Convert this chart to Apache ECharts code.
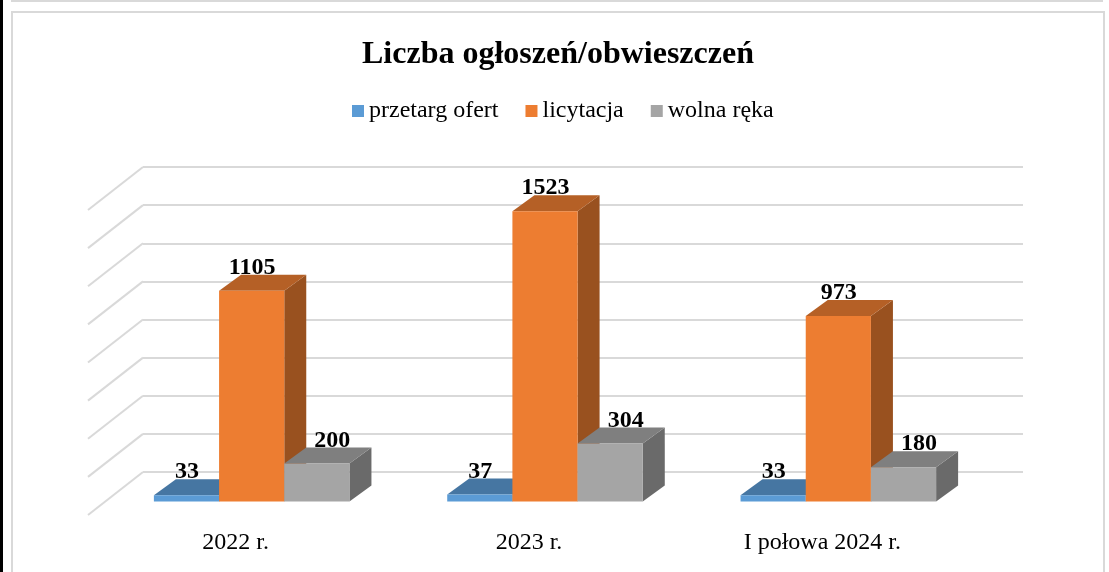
<!DOCTYPE html>
<html lang="pl">
<head>
<meta charset="utf-8">
<title>Liczba ogłoszeń/obwieszczeń</title>
<script src="https://cdn.jsdelivr.net/npm/echarts@6/dist/echarts.min.js"></script>
<style>
  html, body { margin: 0; padding: 0; background: #fff; }
  #chart { width: 1109px; height: 572px; }
</style>
</head>
<body>
<div id="chart"></div>
<script>
// dane
const categories = ['2022 r.', '2023 r.', 'I połowa 2024 r.'];
const przetargOfert = [33, 37, 33];
const licytacja = [1105, 1523, 973];
const wolnaReka = [200, 304, 180];
const yTicks = [0, 200, 400, 600, 800, 1000, 1200, 1400, 1600];

const FONT = '"Liberation Serif", "Times New Roman", serif';

// rzut 3D: przesunięcie przedniej krawędzi podłogi względem tylnej ściany
const WALL_DX = -55, WALL_DY = 43;
// przód słupka względem tylnej ściany
const FRONT_DX = -38, FRONT_DY = 29.5;
// głębokość słupka
const BAR_DX = 22, BAR_DY = -16;

const chart = echarts.init(document.getElementById('chart'));

function poly(points, color) {
  return { type: 'polygon', shape: { points: points }, style: { fill: color } };
}

// słupek 3D: barIndex 0..2 w grupie, kolory [przód, góra, bok]
function barRenderer(barIndex, colors, labelDx) {
  return function (params, api) {
    const v = api.value(1);
    const base = api.coord([api.value(0), 0]);
    const top = api.coord([api.value(0), v]);
    const w = api.size([1, 0])[0] / 4.5;
    const x0 = base[0] + FRONT_DX + (barIndex - 1.5) * w;
    const x1 = x0 + w;
    const yb = base[1] + FRONT_DY;
    const yt = top[1] + FRONT_DY;
    return {
      type: 'group',
      children: [
        poly([[x1, yb], [x1 + BAR_DX, yb + BAR_DY], [x1 + BAR_DX, yt + BAR_DY], [x1, yt]], colors[2]),
        poly([[x0, yt], [x1, yt], [x1 + BAR_DX, yt + BAR_DY], [x0 + BAR_DX, yt + BAR_DY]], colors[1]),
        poly([[x0, yb], [x1, yb], [x1, yt], [x0, yt]], colors[0]),
        {
          type: 'text',
          style: {
            x: (x0 + x1) / 2 + labelDx + 0.5,
            y: yt + BAR_DY - 7,
            text: String(v),
            align: 'center',
            verticalAlign: 'middle',
            fill: '#000',
            font: 'bold 24px ' + FONT
          }
        }
      ]
    };
  };
}

function barSeries(name, values, barIndex, colors, labelDx) {
  return {
    name: name,
    type: 'custom',
    xAxisIndex: 0,
    yAxisIndex: 0,
    itemStyle: { color: colors[0] },
    encode: { x: 0, y: 1 },
    data: values.map(function (v, i) { return [i, v]; }),
    renderItem: barRenderer(barIndex, colors, labelDx),
    silent: true
  };
}

const option = {
  backgroundColor: '#fff',
  animation: false,
  title: {
    text: 'Liczba ogłoszeń/obwieszczeń',
    left: 362,
    top: 39,
    padding: 0,
    textStyle: { fontFamily: FONT, fontSize: 32, fontWeight: 'bold', color: '#000' }
  },
  legend: {
    left: 352,
    top: 99,
    padding: 0,
    icon: 'rect',
    itemWidth: 12,
    itemHeight: 12,
    itemGap: 27,
    data: ['przetarg ofert', 'licytacja', 'wolna ręka'],
    textStyle: { fontFamily: FONT, fontSize: 24, color: '#000' }
  },
  grid: [
    // tylna ściana
    { left: 143, top: 167, width: 880, height: 305 },
    // przednia krawędź podłogi - tylko podpisy kategorii
    { left: 89, top: 515, width: 880, height: 1 }
  ],
  xAxis: [
    {
      type: 'category',
      gridIndex: 0,
      data: categories,
      axisLine: { show: false },
      axisTick: { show: false },
      axisLabel: { show: false }
    },
    {
      type: 'category',
      gridIndex: 1,
      data: categories,
      axisLine: { show: false },
      axisTick: { show: false },
      axisLabel: { margin: 15, color: '#000', fontFamily: FONT, fontSize: 24, interval: 0 }
    }
  ],
  yAxis: [
    {
      type: 'value',
      gridIndex: 0,
      min: 0,
      max: 1600,
      interval: 200,
      axisLine: { show: false },
      axisTick: { show: false },
      axisLabel: { show: false },
      splitLine: { lineStyle: { color: '#d9d9d9', width: 2 } }
    },
    { type: 'value', gridIndex: 1, show: false }
  ],
  series: [
    {
      // ukośne linie na bocznej ścianie
      type: 'custom',
      name: 'wall',
      xAxisIndex: 0,
      yAxisIndex: 0,
      silent: true,
      encode: { x: 0, y: 1 },
      data: yTicks.map(function (t) { return [0, t]; }),
      renderItem: function (params, api) {
        const y = api.coord([0, api.value(1)])[1];
        const x = params.coordSys.x;
        return {
          type: 'line',
          shape: { x1: x, y1: y, x2: x + WALL_DX, y2: y + WALL_DY },
          style: { stroke: '#d9d9d9', lineWidth: 2 }
        };
      }
    },
    barSeries('przetarg ofert', przetargOfert, 0, ['#5b9bd5', '#4676a2', '#3a6288'], 0),
    barSeries('licytacja', licytacja, 1, ['#ed7d31', '#b56026', '#99511f'], 0),
    barSeries('wolna ręka', wolnaReka, 2, ['#a5a5a5', '#7f7f7f', '#6a6a6a'], 15)
  ],
  graphic: [
    // ramki strony
    { type: 'line', shape: { x1: 1.5, y1: 0, x2: 1.5, y2: 572 }, style: { stroke: '#000', lineWidth: 3 } },
    { type: 'rect', shape: { x: 12, y: -20, width: 1090, height: 21 }, style: { fill: 'none', stroke: '#d9d9d9', lineWidth: 2 } },
    { type: 'rect', shape: { x: 12, y: 12, width: 1092, height: 580 }, style: { fill: 'none', stroke: '#d9d9d9', lineWidth: 2 } }
  ]
};

chart.setOption(option);
</script>
</body>
</html>
